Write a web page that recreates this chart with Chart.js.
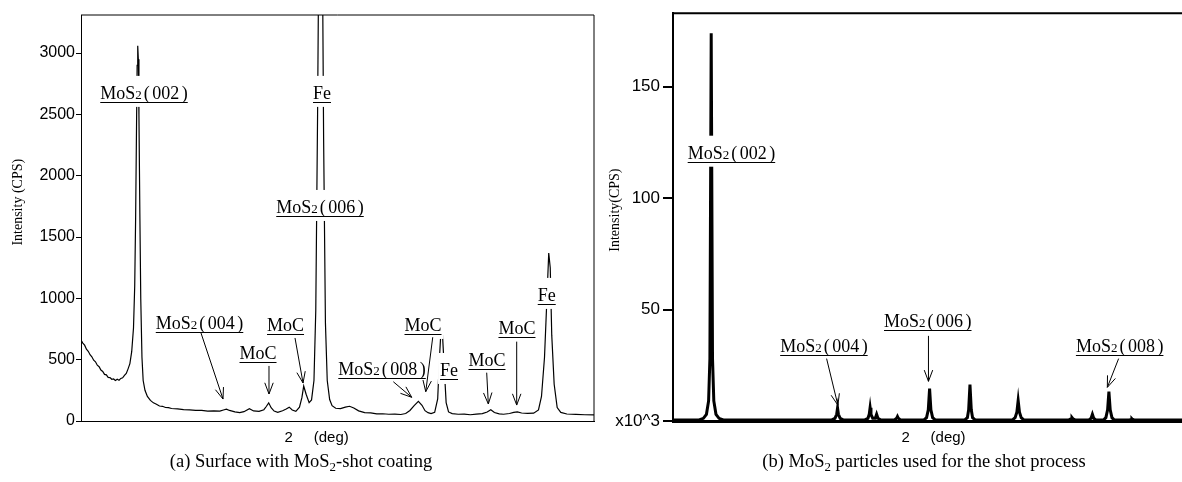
<!DOCTYPE html>
<html>
<head>
<meta charset="utf-8">
<script src="https://cdn.jsdelivr.net/npm/chart.js@4.4.0/dist/chart.umd.min.js"></script>
<style>
  html, body { margin: 0; padding: 0; background: #fff; }
  body { position: relative; width: 1182px; height: 482px; overflow: hidden; }
  canvas { position: absolute; top: 0; }
  #surface { left: 0; }
  #powder { left: 590px; }
  .caption {
    position: absolute; top: 452px; white-space: nowrap; line-height: 1;
    font-family: 'Liberation Serif', 'Times New Roman', serif; font-size: 18.5px;
    transform: translateX(-50%);
  }
  .caption sub { font-size: 70%; vertical-align: -0.3em; line-height: 0; }
</style>
</head>
<body>
<canvas id="surface" width="600" height="452"></canvas>
<canvas id="powder" width="610" height="452"></canvas>
<div class="caption" style="left:301px">(a) Surface with MoS<sub>2</sub>-shot coating</div>
<div class="caption" style="left:924px">(b) MoS<sub>2</sub> particles used for the shot process</div>

<script>
// (a) coated surface, 2theta (deg) vs intensity (CPS)
const surfaceAngle = [
  5.0, 5.3, 5.6, 5.9, 6.2, 6.5, 6.8, 7.1, 7.4, 7.7, 8.0, 8.3, 8.6, 8.9, 9.2, 9.5, 9.8, 10.1, 10.4, 10.7,
  11.0, 11.3, 11.6, 11.9, 12.2, 12.5, 12.8, 13.1, 13.4, 13.7, 13.9, 14.05, 14.2, 14.3, 14.4, 14.5, 14.6, 14.75, 14.9, 15.1,
  15.3, 15.6, 16.0, 16.5, 17.0, 17.5, 18.0, 18.5, 19.0, 19.5, 20, 21, 22, 23, 24, 25, 26, 27, 28, 28.6,
  29.1, 29.6, 30.5, 31.3, 32.0, 32.9, 33.6, 34.5, 35.3, 35.7, 36.1, 36.5, 37.0, 37.6, 38.4, 39.0, 39.5, 40.0, 40.6, 41.2,
  41.6, 41.9, 42.3, 42.8, 43.2, 43.6, 43.9, 44.2, 44.45, 44.7, 44.95, 45.2, 45.5, 45.8, 46.2, 46.6, 47.2, 48.0, 48.8, 49.5,
  50.2, 51.0, 52.0, 53, 54, 55, 56, 57, 58, 58.8, 59.5, 60.2, 60.9, 61.5, 62.0, 62.5, 63.0, 63.6, 64.1, 64.4,
  64.65, 64.9, 65.2, 65.5, 65.9, 66.5, 67.5, 68.5, 69.5, 70.5, 71.5, 72.3, 72.9, 73.5, 74.3, 75.0, 76.0, 76.7, 77.3, 78.0,
  79.0, 80.0, 80.8, 81.3, 81.8, 82.2, 82.5, 82.75, 83.0, 83.4, 83.9, 84.5, 85.5, 87, 88.5, 90
];
const surfaceCps = [
  660, 635, 618, 585, 568, 540, 524, 496, 483, 455, 443, 415, 404, 380, 376, 356, 354, 340, 343, 330,
  340, 332, 347, 352, 372, 388, 425, 468, 565, 760, 1100, 1650, 2400, 2900, 3060, 2950, 2500, 1700, 1000, 520,
  330, 250, 200, 168, 148, 137, 122, 120, 110, 109, 102, 99, 93, 91, 86, 86, 81, 82, 80, 90,
  97, 86, 74, 69, 76, 100, 82, 79, 92, 118, 148, 108, 81, 71, 84, 98, 113, 90, 79, 112,
  190, 285, 218, 150, 172, 330, 900, 2500, 4200, 5200, 4200, 2300, 800, 330, 175, 125, 104, 101, 113, 120,
  106, 83, 69, 66, 58, 59, 55, 56, 53, 61, 86, 125, 160, 128, 84, 68, 61, 71, 180, 520,
  740, 700, 420, 150, 74, 60, 55, 56, 51, 56, 60, 73, 92, 69, 58, 55, 61, 70, 75, 65,
  62, 64, 90, 200, 520, 1000, 1370, 1250, 700, 300, 110, 70, 57, 54, 51, 50
];

// (b) MoS2 powder, 2theta (deg) vs intensity (x10^3 CPS)
const powderAngle = [
  10, 13.0, 13.5, 13.85, 14.1, 14.25, 14.4, 14.55, 14.7, 14.95, 15.3, 15.8,
  28.3, 28.65, 28.85, 28.95, 29.05, 29.25, 29.6,
  32.1, 32.45, 32.6, 32.7, 32.8, 33.0, 33.3, 33.45, 33.6, 33.9,
  35.5, 35.75, 35.85, 35.95, 36.2,
  38.9, 39.2, 39.4, 39.55, 39.7, 39.9, 40.2,
  43.6, 43.9, 44.05, 44.2, 44.35, 44.5, 44.8,
  49.1, 49.4, 49.6, 49.75, 49.9, 50.1, 50.4,
  55.6, 55.85, 55.95, 56.05, 56.3,
  57.9, 58.15, 58.3, 58.45, 58.7,
  59.6, 59.85, 60.05, 60.2, 60.35, 60.55, 60.8,
  62.6, 62.8, 62.85, 62.9, 63.1, 70
];
const powderKcps = [
  0.4, 0.5, 1.2, 3, 9, 28, 174, 28, 9, 3, 1.2, 0.5,
  0.5, 1.2, 3, 5.8, 3, 1.2, 0.5,
  0.5, 1.2, 3, 6, 3, 1.2, 1.2, 3, 1.2, 0.5,
  0.5, 1.2, 2, 1.2, 0.5,
  0.5, 1.5, 5, 14.5, 5, 1.5, 0.5,
  0.5, 1.5, 5, 16.4, 5, 1.5, 0.5,
  0.5, 1.5, 4, 9.2, 4, 1.5, 0.5,
  0.5, 1, 1.5, 1, 0.5,
  0.5, 1.2, 3, 1.2, 0.5,
  0.5, 1.5, 5, 13.2, 5, 1.5, 0.5,
  0.5, 0.8, 1, 0.8, 0.5, 0.5
];

const surfaceTicks = [0, 500, 1000, 1500, 2000, 2500, 3000];
const powderTicks = [0, 50, 100, 150];

// peak labels: [text, 2theta, intensity] (label centre)
const surfaceLabels = [
  ['MoS2(002)', 15.44, 2675], ['Fe', 44.93, 2675], ['MoS2(006)', 44.6, 1745],
  ['MoS2(004)', 24.64, 800], ['MoC', 34.33, 555], ['MoC', 38.89, 783],
  ['MoS2(008)', 54.88, 432], ['MoC', 61.67, 783], ['Fe', 65.98, 416],
  ['MoC', 72.27, 498], ['MoC', 77.24, 759], ['Fe', 82.17, 1028]
];
// arrows: [from 2theta, from intensity, to 2theta, to intensity]
const surfaceArrows = [
  [24.88, 718, 28.53, 179], [36.15, 449, 36.15, 220], [40.46, 677, 41.79, 310],
  [56.75, 320, 59.8, 193], [63.28, 683, 62.12, 239], [72.22, 394, 72.49, 139],
  [77.19, 647, 77.19, 130]
];
const powderLabels = [
  ['MoS2(002)', 16.73, 120.4], ['MoS2(004)', 27.38, 33.8],
  ['MoS2(006)', 39.34, 44.9], ['MoS2(008)', 61.44, 33.8]
];
const powderArrows = [
  [27.69, 28, 28.99, 7.1], [39.42, 38.2, 39.42, 17.8], [61.32, 28, 60.02, 15.1]
];

const SERIF = "'Liberation Serif', 'Times New Roman', serif";
const SANS = "'Liberation Sans', Arial, sans-serif";

function toPoints(xs, ys) {
  return xs.map((x, i) => ({ x: x, y: ys[i] }));
}

// draws "MoS2(002)" style labels, white box behind, underlined
function drawLabel(ctx, text, cx, cy) {
  let parts;
  if (text.startsWith('MoS2')) {
    const hkl = text.slice(5, -1);
    parts = [['MoS', 18, 0], ['2', 13, 2], ['(', 18, 2.5], [hkl, 18, 2.5], [')', 18, 0]];
  } else {
    parts = [[text, 18, 0]];
  }
  let w = 0;
  parts.forEach(p => {
    ctx.font = p[1] + 'px ' + SERIF;
    p.push(ctx.measureText(p[0]).width);
    w += p[3] + p[2];
  });
  const x0 = cx - w / 2;
  const base = cy + 6.5;
  ctx.fillStyle = '#fff';
  ctx.fillRect(x0 - 2, cy - 17, w + 4, 31);
  ctx.fillStyle = '#000';
  ctx.textBaseline = 'alphabetic';
  ctx.textAlign = 'left';
  let x = x0;
  parts.forEach(p => {
    ctx.font = p[1] + 'px ' + SERIF;
    ctx.fillText(p[0], x, base);
    x += p[3] + p[2];
  });
  ctx.strokeStyle = '#000';
  ctx.lineWidth = 1;
  ctx.beginPath();
  ctx.moveTo(x0, Math.round(base + 3) + 0.5);
  ctx.lineTo(x0 + w, Math.round(base + 3) + 0.5);
  ctx.stroke();
}

function drawArrow(ctx, x1, y1, x2, y2) {
  const a = Math.atan2(y2 - y1, x2 - x1);
  const len = 12, spread = 0.36;
  ctx.strokeStyle = '#000';
  ctx.lineWidth = 1;
  ctx.beginPath();
  ctx.moveTo(x1, y1);
  ctx.lineTo(x2, y2);
  ctx.moveTo(x2 - len * Math.cos(a - spread), y2 - len * Math.sin(a - spread));
  ctx.lineTo(x2, y2);
  ctx.lineTo(x2 - len * Math.cos(a + spread), y2 - len * Math.sin(a + spread));
  ctx.stroke();
}

function annotations(labels, arrows) {
  return {
    id: 'peakNotes',
    afterDatasetsDraw(chart) {
      const ctx = chart.ctx, sx = chart.scales.x, sy = chart.scales.y;
      ctx.save();
      labels.forEach(l => drawLabel(ctx, l[0], sx.getPixelForValue(l[1]), sy.getPixelForValue(l[2])));
      arrows.forEach(a => drawArrow(ctx,
        sx.getPixelForValue(a[0]), sy.getPixelForValue(a[1]),
        sx.getPixelForValue(a[2]), sy.getPixelForValue(a[3])));
      ctx.restore();
    }
  };
}

// top and right edges of the frame
function frame(width) {
  return {
    id: 'frame',
    afterDraw(chart) {
      const { ctx, chartArea: a } = chart;
      ctx.save();
      ctx.strokeStyle = '#000';
      ctx.lineWidth = width;
      ctx.beginPath();
      ctx.moveTo(a.left, a.top);
      ctx.lineTo(a.right, a.top);
      ctx.lineTo(a.right, a.bottom);
      ctx.stroke();
      ctx.restore();
    }
  };
}

function makeChart(id, cfg) {
  return new Chart(document.getElementById(id), {
    type: 'line',
    data: {
      datasets: [{
        data: cfg.points,
        borderColor: '#000',
        borderWidth: cfg.lineWidth,
        pointRadius: 0,
        tension: 0,
        fill: false
      }]
    },
    options: {
      responsive: false,
      animation: false,
      layout: { padding: { top: cfg.top, right: cfg.right, left: 0, bottom: 0 } },
      plugins: { legend: { display: false }, tooltip: { enabled: false } },
      scales: {
        x: {
          type: 'linear',
          min: cfg.xMin,
          max: cfg.xMax,
          grid: { display: false },
          border: { display: true, color: '#000', width: cfg.xBorder },
          ticks: { display: false },
          afterFit: s => { s.height = 31; },
          title: {
            display: true,
            text: cfg.xTitle,
            color: '#000',
            font: { family: SANS, size: 15 },
            padding: { top: 0, bottom: 5 }
          }
        },
        y: {
          min: 0,
          max: cfg.yMax,
          afterBuildTicks: s => { s.ticks = cfg.ticks.map(v => ({ value: v })); },
          afterFit: s => { s.width = cfg.yWidth; },
          grid: { display: true, drawOnChartArea: false, drawTicks: true, tickLength: cfg.tickLen, color: '#000', lineWidth: cfg.yBorder },
          border: { display: true, color: '#000', width: cfg.yBorder },
          ticks: {
            color: '#000',
            padding: cfg.tickPad,
            font: { family: SANS, size: cfg.tickSize },
            callback: cfg.tickText
          },
          title: {
            display: true,
            text: cfg.yTitle,
            color: '#000',
            font: { family: SERIF, size: 14 },
            padding: { top: cfg.yTitlePad, bottom: 0 }
          }
        }
      }
    },
    plugins: [annotations(cfg.labels, cfg.arrows), frame(cfg.frameWidth)]
  });
}

makeChart('surface', {
  points: toPoints(surfaceAngle, surfaceCps),
  lineWidth: 1.2,
  xMin: 5, xMax: 90, yMax: 3310,
  ticks: surfaceTicks,
  tickText: v => String(v),
  top: 15, right: 6,
  yWidth: 81, tickLen: 5, tickPad: 1, tickSize: 16,
  xBorder: 1, yBorder: 1, frameWidth: 1,
  xTitle: '2     (deg)          ',
  yTitle: '         Intensity (CPS)',
  yTitlePad: 10,
  labels: surfaceLabels, arrows: surfaceArrows
});

makeChart('powder', {
  points: toPoints(powderAngle, powderKcps),
  lineWidth: 3,
  xMin: 10, xMax: 70, yMax: 183,
  ticks: powderTicks,
  tickText: v => (v === 0 ? 'x10^3' : String(v)),
  top: 10, right: 6,
  yWidth: 83, tickLen: 10, tickPad: 3, tickSize: 17,
  xBorder: 3, yBorder: 2, frameWidth: 2,
  xTitle: '2     (deg)',
  yTitle: '    Intensity(CPS)',
  yTitlePad: 17,
  labels: powderLabels, arrows: powderArrows
});
</script>
</body>
</html>
